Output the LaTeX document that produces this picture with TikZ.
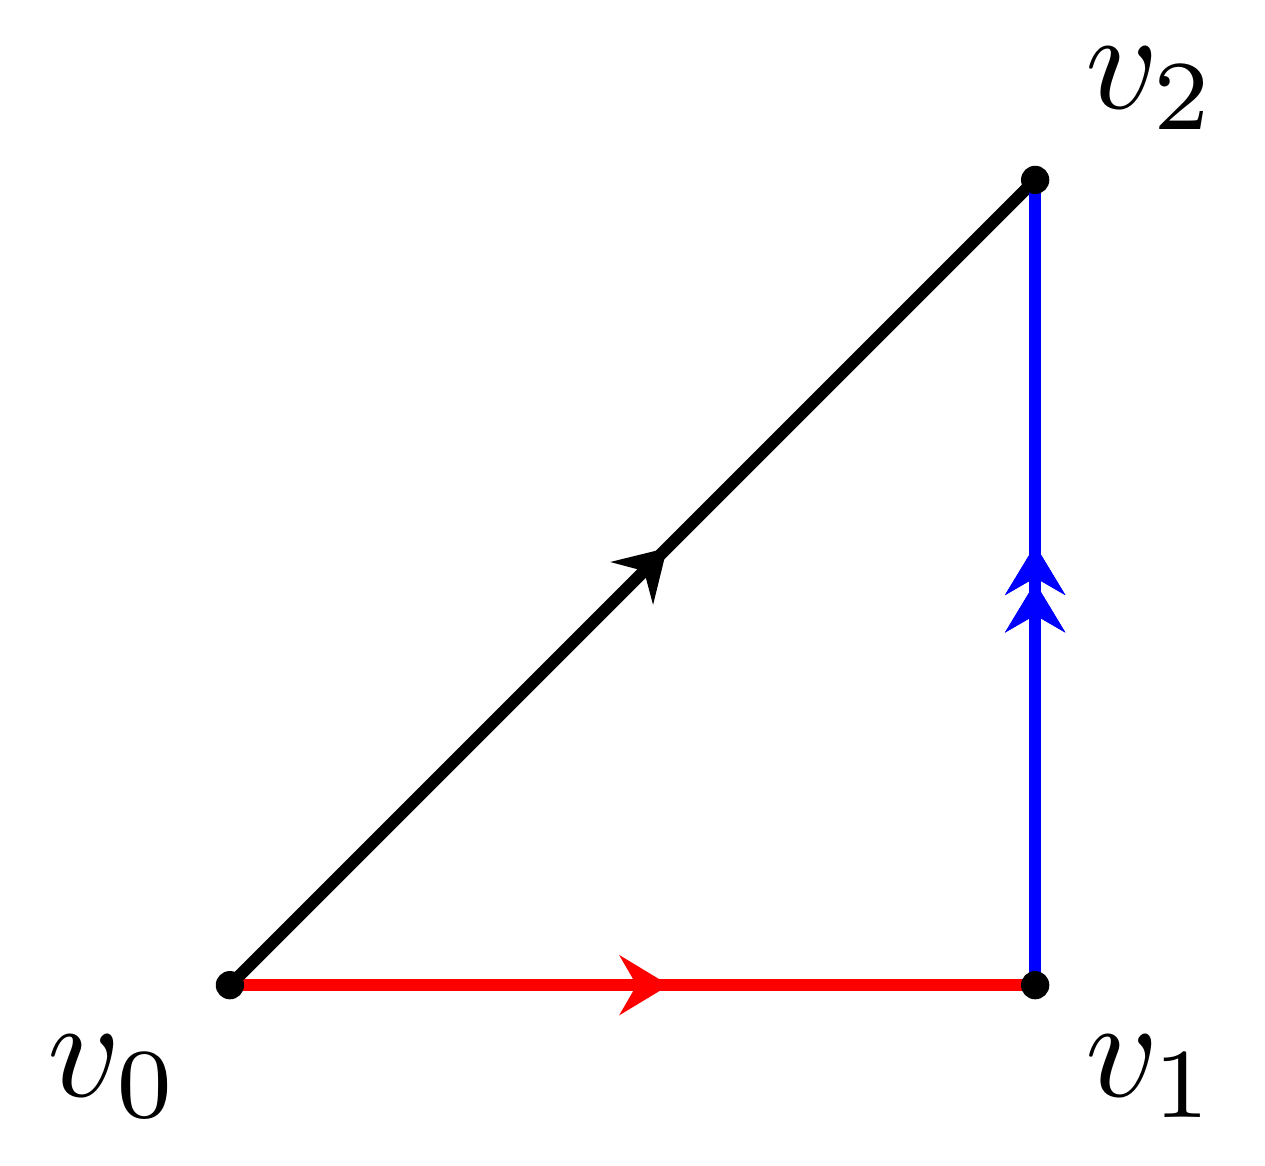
\documentclass[tikz,border=0pt]{standalone}
\usetikzlibrary{arrows.meta, positioning, decorations.markings, backgrounds}

\begin{document}
\begin{tikzpicture}[
  vertex/.style={circle, fill=black, inner sep=0pt, outer sep=0pt, minimum size=2pt},
  edge/.style={line width=0.85pt},
  tipmid/.style={postaction={decorate}, decoration={markings,
    mark=at position #1 with {\arrow{Stealth[length=3.5pt, width=4.2pt, inset=1.2pt]}}}}
]
\useasboundingbox (-0.571,-0.447) rectangle (2.571,2.447);

\node[vertex] (v0) at (0,0) {};
\node[vertex] (v1) at (2,0) {};
\node[vertex] (v2) at (2,2) {};

\node[below left=0pt of v0.center] (l0) {$v_0$};
\node[below right=0pt of v1.center] (l1) {$v_1$};
\node[above right=0pt of v2.center] (l2) {$v_2$};

\begin{scope}[on background layer]
\draw[edge, red, tipmid=0.5455] (v0.center) -- (v1.center);
\draw[edge, black, tipmid=0.544] (v0.center) -- (v2.center);
\draw[edge, blue, tipmid=0.5465, tipmid=0.50] (v1.center) -- (v2.center);
\end{scope}
\end{tikzpicture}
\end{document}
